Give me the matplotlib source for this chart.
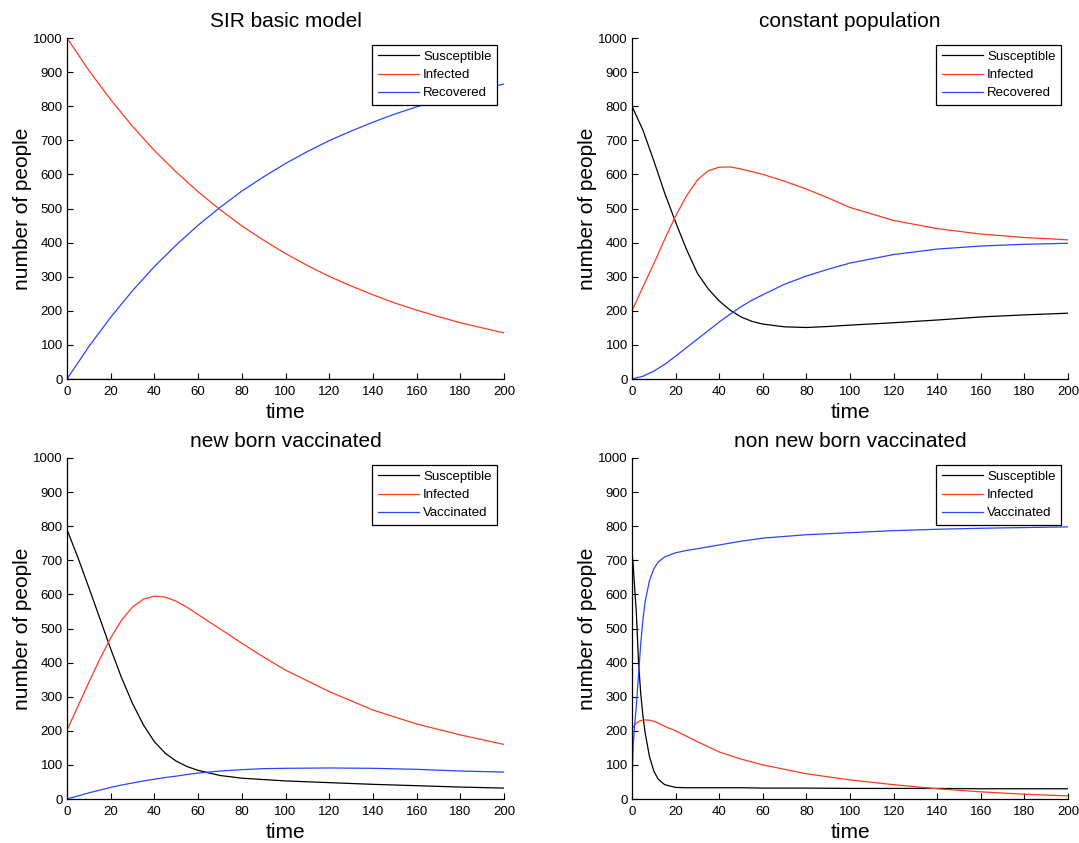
import matplotlib
matplotlib.use("Agg")
import matplotlib.pyplot as plt

# ---------------- data ----------------
t1 = [0, 10, 20, 30, 40, 50, 60, 70, 80, 90, 100, 110, 120, 130, 140, 150, 160, 170, 180, 190, 200]
S1 = [0, 0, 0, 0, 0, 0, 0, 0, 0, 0, 0, 0, 0, 0, 0, 0, 0, 0, 0, 0, 0]
I1 = [1000, 905, 819, 741, 670, 607, 549, 497, 449, 407, 368, 333, 301, 273, 247, 223, 202, 183, 165, 150, 135]
R1 = [0, 95, 181, 259, 330, 393, 451, 503, 551, 593, 632, 667, 699, 727, 753, 777, 798, 817, 835, 850, 865]

t2 = [0, 5, 10, 15, 20, 25, 30, 35, 40, 45, 50, 55, 60, 70, 80, 90, 100, 120, 140, 160, 180, 200]
S2 = [800, 730, 640, 545, 460, 380, 310, 264, 229, 202, 182, 169, 161, 153, 151, 154, 158, 165, 173, 182, 188, 193]
I2 = [200, 270, 338, 410, 478, 537, 584, 611, 621, 622, 616, 608, 600, 580, 557, 531, 503, 465, 441, 425, 415, 408]
R2 = [0, 8, 23, 43, 67, 92, 117, 142, 167, 190, 212, 231, 247, 278, 302, 322, 340, 365, 381, 390, 395, 398]

t3 = [0, 5, 10, 15, 20, 25, 30, 35, 40, 45, 50, 55, 60, 70, 80, 90, 100, 120, 140, 160, 180, 200]
S3 = [790, 708, 620, 530, 440, 355, 280, 217, 168, 134, 111, 95, 84, 69, 61, 57, 53, 48, 43, 39, 35, 32]
I3 = [202, 272, 342, 410, 472, 525, 563, 586, 595, 592, 580, 562, 541, 499, 457, 416, 378, 315, 261, 220, 188, 160]
V3 = [0, 9, 18, 26, 34, 41, 47, 53, 58, 63, 67, 72, 76, 82, 86, 89, 90, 91, 90, 87, 82, 79]

t4 = [0, 0.5, 1, 2, 3, 4, 5, 6, 8, 10, 12, 15, 20, 25, 30, 40, 50, 60, 80, 100, 120, 140, 160, 180, 200]
S4 = [723, 690, 640, 545, 400, 310, 245, 195, 125, 82, 58, 42, 34, 33, 33, 33, 33, 32, 32, 31, 31, 31, 30, 30, 30]
I4 = [205, 210, 215, 222, 227, 230, 231, 232, 231, 228, 223, 213, 200, 184, 168, 138, 117, 100, 74, 56, 42, 30, 21, 14, 9]
V4 = [40, 150, 200, 275, 365, 455, 525, 578, 640, 675, 695, 710, 722, 729, 734, 745, 756, 765, 775, 781, 787, 791, 794, 796, 798]

titles = ["SIR basic model", "constant population", "new born vaccinated", "non new born vaccinated"]
labels_R = ["Susceptible", "Infected", "Recovered"]
labels_V = ["Susceptible", "Infected", "Vaccinated"]
xticks = [0, 20, 40, 60, 80, 100, 120, 140, 160, 180, 200]
yticks = [0, 100, 200, 300, 400, 500, 600, 700, 800, 900, 1000]

# ---------------- styling ----------------
plt.rcParams['font.family'] = ['Liberation Sans', 'DejaVu Sans']
C_S, C_I, C_R = 'black', '#ff3a1e', '#2846ff'

W, H = 1079, 843
fig = plt.figure(figsize=(W / 100, H / 100), dpi=100)

def px_axes(l, r, t, b):
    return fig.add_axes([l / W, 1 - b / H, (r - l) / W, (b - t) / H])

panels = [
    (px_axes(67, 504, 38, 379), t1, S1, I1, R1, titles[0], labels_R),
    (px_axes(632, 1068, 38, 379), t2, S2, I2, R2, titles[1], labels_R),
    (px_axes(67, 504, 458, 799), t3, S3, I3, V3, titles[2], labels_V),
    (px_axes(632, 1068, 458, 799), t4, S4, I4, V4, titles[3], labels_V),
]

for ax, t, S, I, R, title, labs in panels:
    ax.plot(t, S, color=C_S, lw=0.9, label=labs[0])
    ax.plot(t, I, color=C_I, lw=0.9, label=labs[1])
    ax.plot(t, R, color=C_R, lw=0.9, label=labs[2])
    ax.set_xlim(0, 200)
    ax.set_ylim(0, 1000)
    ax.set_xticks(xticks)
    ax.set_yticks(yticks)
    ax.spines['top'].set_visible(False)
    ax.spines['right'].set_visible(False)
    for s in ('left', 'bottom'):
        ax.spines[s].set_linewidth(0.9)
    ax.tick_params(direction='in', length=4, width=0.8, labelsize=9.5)
    ax.tick_params(axis='x', pad=5)
    ax.tick_params(axis='y', pad=3)
    ax.set_title(title, fontsize=15, pad=8)
    ax.set_xlabel("time", fontsize=15, labelpad=4)
    ax.set_ylabel("number of people", fontsize=15, labelpad=1)
    leg = ax.legend(loc='upper right', bbox_to_anchor=(0.985, 0.98), borderaxespad=0,
                    fontsize=9.5, fancybox=False, framealpha=1, edgecolor='black',
                    handlelength=3.1, handletextpad=0.3, labelspacing=0.45, borderpad=0.45)
    leg.get_frame().set_linewidth(0.9)

fig.savefig("out.png", dpi=100)
